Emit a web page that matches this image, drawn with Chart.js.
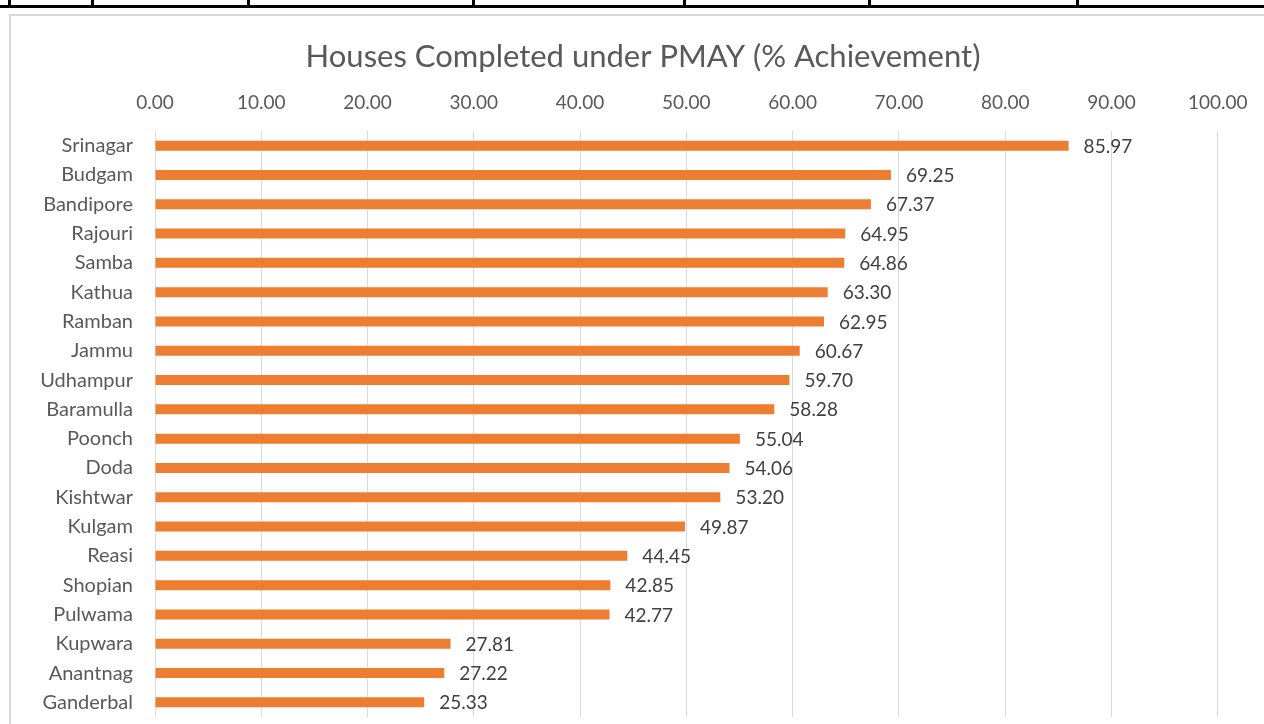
<!DOCTYPE html>
<html>
<head>
<meta charset="utf-8">
<script src="https://cdn.jsdelivr.net/npm/chart.js@4.4.1/dist/chart.umd.min.js"></script>
<style>
    html, body { margin: 0; padding: 0; background: #fff; overflow: hidden; }
    body { width: 1264px; height: 724px; position: relative; }
    .rule { position: absolute; background: #000; }
    #frame { position: absolute; left: 9px; top: 14px; width: 1300px; height: 760px; border: 2px solid #d9d9d9; box-sizing: border-box; }
    #chartWrap { position: absolute; left: 0; top: 0; width: 1264px; height: 724px; }
</style>
</head>
<body>
<!-- table strip above the chart -->
<div class="rule" style="left:0;top:5px;width:1264px;height:3px;"></div>
<div class="rule" style="left:8px;top:0;width:3px;height:7px;"></div>
<div class="rule" style="left:91px;top:0;width:3px;height:7px;"></div>
<div class="rule" style="left:247px;top:0;width:3px;height:7px;"></div>
<div class="rule" style="left:472px;top:0;width:3px;height:7px;"></div>
<div class="rule" style="left:683px;top:0;width:3px;height:7px;"></div>
<div class="rule" style="left:868px;top:0;width:3px;height:7px;"></div>
<div class="rule" style="left:1076px;top:0;width:3px;height:7px;"></div>
<div id="frame"></div>
<div id="chartWrap"><canvas id="pmayChart" width="1264" height="724"></canvas></div>

<script>
// Data
const districts = ['Srinagar', 'Budgam', 'Bandipore', 'Rajouri', 'Samba', 'Kathua', 'Ramban', 'Jammu',
    'Udhampur', 'Baramulla', 'Poonch', 'Doda', 'Kishtwar', 'Kulgam', 'Reasi', 'Shopian', 'Pulwama',
    'Kupwara', 'Anantnag', 'Ganderbal'];
const achievement = [85.97, 69.25, 67.37, 64.95, 64.86, 63.30, 62.95, 60.67, 59.70, 58.28, 55.04,
    54.06, 53.20, 49.87, 44.45, 42.85, 42.77, 27.81, 27.22, 25.33];
const xTicks = [0, 10, 20, 30, 40, 50, 60, 70, 80, 90, 100];

const FONT = 'Lato, "Open Sans", sans-serif';

// Draw the value labels to the right of each bar
const valueLabels = {
    id: 'valueLabels',
    afterDatasetsDraw(chart) {
        const ctx = chart.ctx;
        const meta = chart.getDatasetMeta(0);
        ctx.save();
        ctx.font = '19px ' + FONT;
        ctx.fillStyle = '#404040';
        ctx.textAlign = 'left';
        ctx.textBaseline = 'middle';
        meta.data.forEach((bar, i) => {
            ctx.fillText(achievement[i].toFixed(2), bar.x + 15, bar.y + 1);
        });
        ctx.restore();
    }
};

// The title sits centred on the whole chart frame, which runs past the right edge
const widenTitle = {
    id: 'widenTitle',
    afterLayout(chart) {
        const t = chart.titleBlock;
        if (t) {
            t.right += 67;
            t.width += 67;
        }
    }
};

function createChart() {
    const ctx = document.getElementById('pmayChart').getContext('2d');

    new Chart(ctx, {
        type: 'bar',
        data: {
            labels: districts,
            datasets: [{
                label: '% Achievement',
                data: achievement,
                backgroundColor: '#ED7D31',
                borderWidth: 0,
                barPercentage: 0.34,
                categoryPercentage: 1.0
            }]
        },
        options: {
            indexAxis: 'y',
            responsive: false,
            animation: false,
            layout: { padding: { left: 0, right: 45, top: 0, bottom: 7 } },
            scales: {
                x: {
                    position: 'top',
                    min: 0,
                    max: 100,
                    afterBuildTicks: axis => { axis.ticks = xTicks.map(v => ({ value: v })); },
                    afterFit: axis => { axis.height = 55.3; },
                    ticks: {
                        color: '#595959',
                        font: { family: FONT, size: 19 },
                        padding: 16.5,
                        maxRotation: 0,
                        callback: v => Number(v).toFixed(2)
                    },
                    grid: { color: '#d9d9d9', lineWidth: 1, drawTicks: false },
                    border: { display: false }
                },
                y: {
                    afterFit: axis => {
                        axis.width = 155;
                        axis.paddingTop = 0;
                        axis.paddingBottom = 0;
                    },
                    ticks: {
                        color: '#595959',
                        font: { family: FONT, size: 20 },
                        padding: 22,
                        autoSkip: false
                    },
                    grid: { display: false, drawTicks: false },
                    border: { display: false }
                }
            },
            plugins: {
                legend: { display: false },
                tooltip: { enabled: false },
                title: {
                    display: true,
                    text: 'Houses Completed under PMAY (% Achievement)',
                    color: '#595959',
                    font: { family: FONT, size: 31, weight: 'normal' },
                    padding: { top: 38.5, bottom: 0 }
                }
            }
        },
        plugins: [valueLabels, widenTitle]
    });
}

createChart();
</script>
</body>
</html>
